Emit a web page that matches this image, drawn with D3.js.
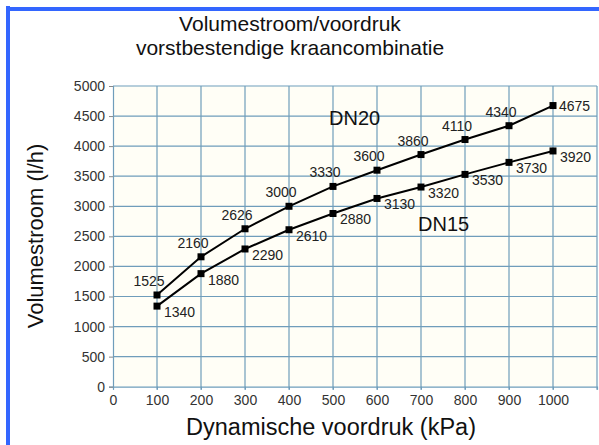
<!DOCTYPE html>
<html>
<head>
<meta charset="utf-8">
<script src="https://cdn.jsdelivr.net/npm/d3@7"></script>
<style>
body { margin: 0; background: #fff; }
svg { display: block; font-family: "Liberation Sans", Arial, sans-serif; }
</style>
</head>
<body>
<svg id="svg" width="599" height="445"></svg>
<script>
// Volumestroom vs voordruk, two pipe sizes
var druk = [100, 200, 300, 400, 500, 600, 700, 800, 900, 1000];
var dn20 = [1525, 2160, 2626, 3000, 3330, 3600, 3860, 4110, 4340, 4675];
var dn15 = [1340, 1880, 2290, 2610, 2880, 3130, 3320, 3530, 3730, 3920];
var xTicks = [0, 100, 200, 300, 400, 500, 600, 700, 800, 900, 1000];
var xGrid = [100, 200, 300, 400, 500, 600, 700, 800, 900, 1000, 1100];
var yTicks = [0, 500, 1000, 1500, 2000, 2500, 3000, 3500, 4000, 4500, 5000];

var svg = d3.select("#svg");
var gridColor = "#6f9dbb";

var x = d3.scaleLinear().domain([0, 1100]).range([113, 597]);
var y = d3.scaleLinear().domain([0, 5000]).range([386.7, 86]);

// blue frame top + left
svg.append("rect").attr("x", 6).attr("y", 7).attr("width", 593).attr("height", 4).attr("fill", "#3366ff");
svg.append("rect").attr("x", 6).attr("y", 6).attr("width", 4).attr("height", 439).attr("fill", "#3366ff");

// title
var title = svg.append("text").attr("text-anchor", "middle").attr("font-size", 21).attr("fill", "#111");
title.append("tspan").attr("x", 290).attr("y", 31).text("Volumestroom/voordruk");
title.append("tspan").attr("x", 290).attr("y", 55).text("vorstbestendige kraancombinatie");

// plot background
svg.append("rect")
    .attr("x", x(0)).attr("y", y(5000))
    .attr("width", x(1100) - x(0)).attr("height", y(0) - y(5000))
    .attr("fill", "#fffef6");

// grid
svg.append("g").selectAll("line").data(xGrid).enter().append("line")
    .attr("x1", function(d) { return x(d); })
    .attr("x2", function(d) { return x(d); })
    .attr("y1", y(5000)).attr("y2", y(0) + 3)
    .attr("stroke", gridColor).attr("stroke-width", 1.2);
svg.append("g").selectAll("line").data(yTicks.slice(1)).enter().append("line")
    .attr("x1", x(0)).attr("x2", x(1100))
    .attr("y1", function(d) { return y(d); })
    .attr("y2", function(d) { return y(d); })
    .attr("stroke", gridColor).attr("stroke-width", 1.2);

// axes
var xAxis = svg.append("g").attr("transform", "translate(0," + y(0) + ")")
    .call(d3.axisBottom(x).tickValues(xTicks).tickFormat(d3.format("d")).tickSize(3).tickPadding(5));
var yAxis = svg.append("g").attr("transform", "translate(" + x(0) + ",0)")
    .call(d3.axisLeft(y).tickValues(yTicks).tickFormat(d3.format("d")).tickSize(4).tickPadding(4));
[xAxis, yAxis].forEach(function(a) {
    a.select(".domain").attr("stroke", gridColor).attr("stroke-width", 1.2);
    a.selectAll(".tick line").attr("stroke", "#888");
    a.selectAll("text").attr("font-size", 14).attr("fill", "#333")
        .attr("font-family", "'Liberation Sans', Arial, sans-serif");
});
xAxis.selectAll(".tick line").attr("stroke", gridColor);

// axis titles
svg.append("text").attr("x", 331).attr("y", 435).attr("text-anchor", "middle")
    .attr("font-size", 23.5).attr("fill", "#111").text("Dynamische voordruk (kPa)");
svg.append("text").attr("transform", "translate(43,236) rotate(-90)").attr("text-anchor", "middle")
    .attr("font-size", 22).attr("fill", "#111").text("Volumestroom (l/h)");

// series
var line = d3.line()
    .x(function(d) { return x(d[0]); })
    .y(function(d) { return y(d[1]); });

var drawSeries = function(vals) {
    var pts = druk.map(function(d, i) { return [d, vals[i]]; });
    svg.append("path").datum(pts).attr("d", line)
        .attr("fill", "none").attr("stroke", "#000").attr("stroke-width", 2);
    svg.append("g").selectAll("rect").data(pts).enter().append("rect")
        .attr("x", function(d) { return x(d[0]) - 3.5; })
        .attr("y", function(d) { return y(d[1]) - 3.5; })
        .attr("width", 7).attr("height", 7).attr("fill", "#000");
    return pts;
};

var p20 = drawSeries(dn20);
var p15 = drawSeries(dn15);

// value labels
svg.append("g").selectAll("text").data(p20).enter().append("text")
    .attr("x", function(d, i) { return i == p20.length - 1 ? x(d[0]) + 6 : x(d[0]) - 8; })
    .attr("y", function(d, i) { return i == p20.length - 1 ? y(d[1]) + 5 : y(d[1]) - 9; })
    .attr("text-anchor", function(d, i) { return i == p20.length - 1 ? "start" : "middle"; })
    .attr("font-size", 14).attr("fill", "#222")
    .text(function(d) { return d[1]; });
svg.append("g").selectAll("text").data(p15).enter().append("text")
    .attr("x", function(d) { return x(d[0]) + 7; })
    .attr("y", function(d) { return y(d[1]) + 11; })
    .attr("font-size", 14).attr("fill", "#222")
    .text(function(d) { return d[1]; });

// series names
svg.append("text").attr("x", 329).attr("y", 125).attr("font-size", 20).attr("fill", "#111").text("DN20");
svg.append("text").attr("x", 418).attr("y", 231).attr("font-size", 20).attr("fill", "#111").text("DN15");
</script>
</body>
</html>
